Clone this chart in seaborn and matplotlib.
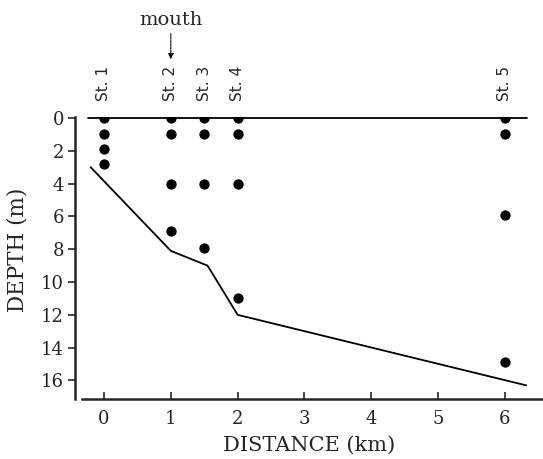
import matplotlib
matplotlib.use("Agg")
import matplotlib.pyplot as plt
import seaborn as sns
import pandas as pd

# --- data ---
stations = ["St. 1", "St. 2", "St. 3", "St. 4", "St. 5"]
station_x = [0.0, 1.0, 1.5, 2.0, 6.0]
sample_depths = [
    [0, 1, 1.9, 2.8],
    [0, 1, 4, 6.9],
    [0, 1, 4, 7.9],
    [0, 1, 4, 11],
    [0, 1, 5.9, 14.9],
]
bottom_x = [-0.2, 1.0, 1.55, 2.0, 6.32]
bottom_depth = [3.0, 8.1, 9.0, 12.0, 16.3]
surface_x = [-0.24, 6.33]
surface_depth = [0, 0]
xticks = [0, 1, 2, 3, 4, 5, 6]
yticks = [0, 2, 4, 6, 8, 10, 12, 14, 16]

rows = []
for s, x, ds in zip(stations, station_x, sample_depths):
    for d in ds:
        rows.append({"station": s, "distance": x, "depth": d})
samples = pd.DataFrame(rows)
bottom = pd.DataFrame({"distance": bottom_x, "depth": bottom_depth})
surface = pd.DataFrame({"distance": surface_x, "depth": surface_depth})

sns.set_style("ticks")
plt.rcParams["font.family"] = ["DejaVu Serif"]

fig = plt.figure(figsize=(5.43, 4.59), dpi=100)
ax = fig.add_axes([75 / 543, 1 - 399 / 459, 468 / 543, 282 / 459])

sns.lineplot(data=surface, x="distance", y="depth", color="black", lw=1.3,
             ax=ax, sort=False, estimator=None)
sns.lineplot(data=bottom, x="distance", y="depth", color="black", lw=1.3,
             ax=ax, sort=False, estimator=None)
sns.scatterplot(data=samples, x="distance", y="depth", color="black",
                s=55, edgecolor="black", linewidth=0, ax=ax, zorder=5)

ax.set_xlim(-0.434, 6.57)
ax.set_ylim(17.13, -0.06)
ax.set_xticks(xticks)
ax.set_yticks(yticks)
ax.tick_params(axis="x", direction="in", length=5, width=1.2, labelsize=13, pad=8)
ax.tick_params(axis="y", direction="out", length=5, width=1.2, labelsize=13, pad=3)
for sp in ["top", "right"]:
    ax.spines[sp].set_visible(False)
ax.spines["left"].set_linewidth(1.8)
ax.spines["bottom"].set_linewidth(1.8)
ax.spines["bottom"].set_bounds(-0.33, 6.57)

ax.set_xlabel("DISTANCE (km)", fontsize=15)
ax.set_ylabel("DEPTH (m)", fontsize=15.5)
ax.xaxis.set_label_coords(0.5, -0.13)
ax.yaxis.set_label_coords(-0.10, 0.53)

tr = ax.get_xaxis_transform()
for s, x in zip(stations, station_x):
    ax.text(x, 1.055, s, rotation=90, ha="center", va="bottom", fontsize=11,
            family=["DejaVu Sans"], transform=tr)

ax.annotate("mouth", xy=(1.0, 1.205), xycoords=tr, xytext=(1.0, 1.344),
            textcoords=tr, ha="center", va="center", fontsize=14,
            arrowprops=dict(arrowstyle="-|>", color="black", lw=0.8,
                            mutation_scale=8, linestyle=(0, (2, 1)),
                            shrinkA=1, shrinkB=0))

fig.savefig("out.png", dpi=100)
